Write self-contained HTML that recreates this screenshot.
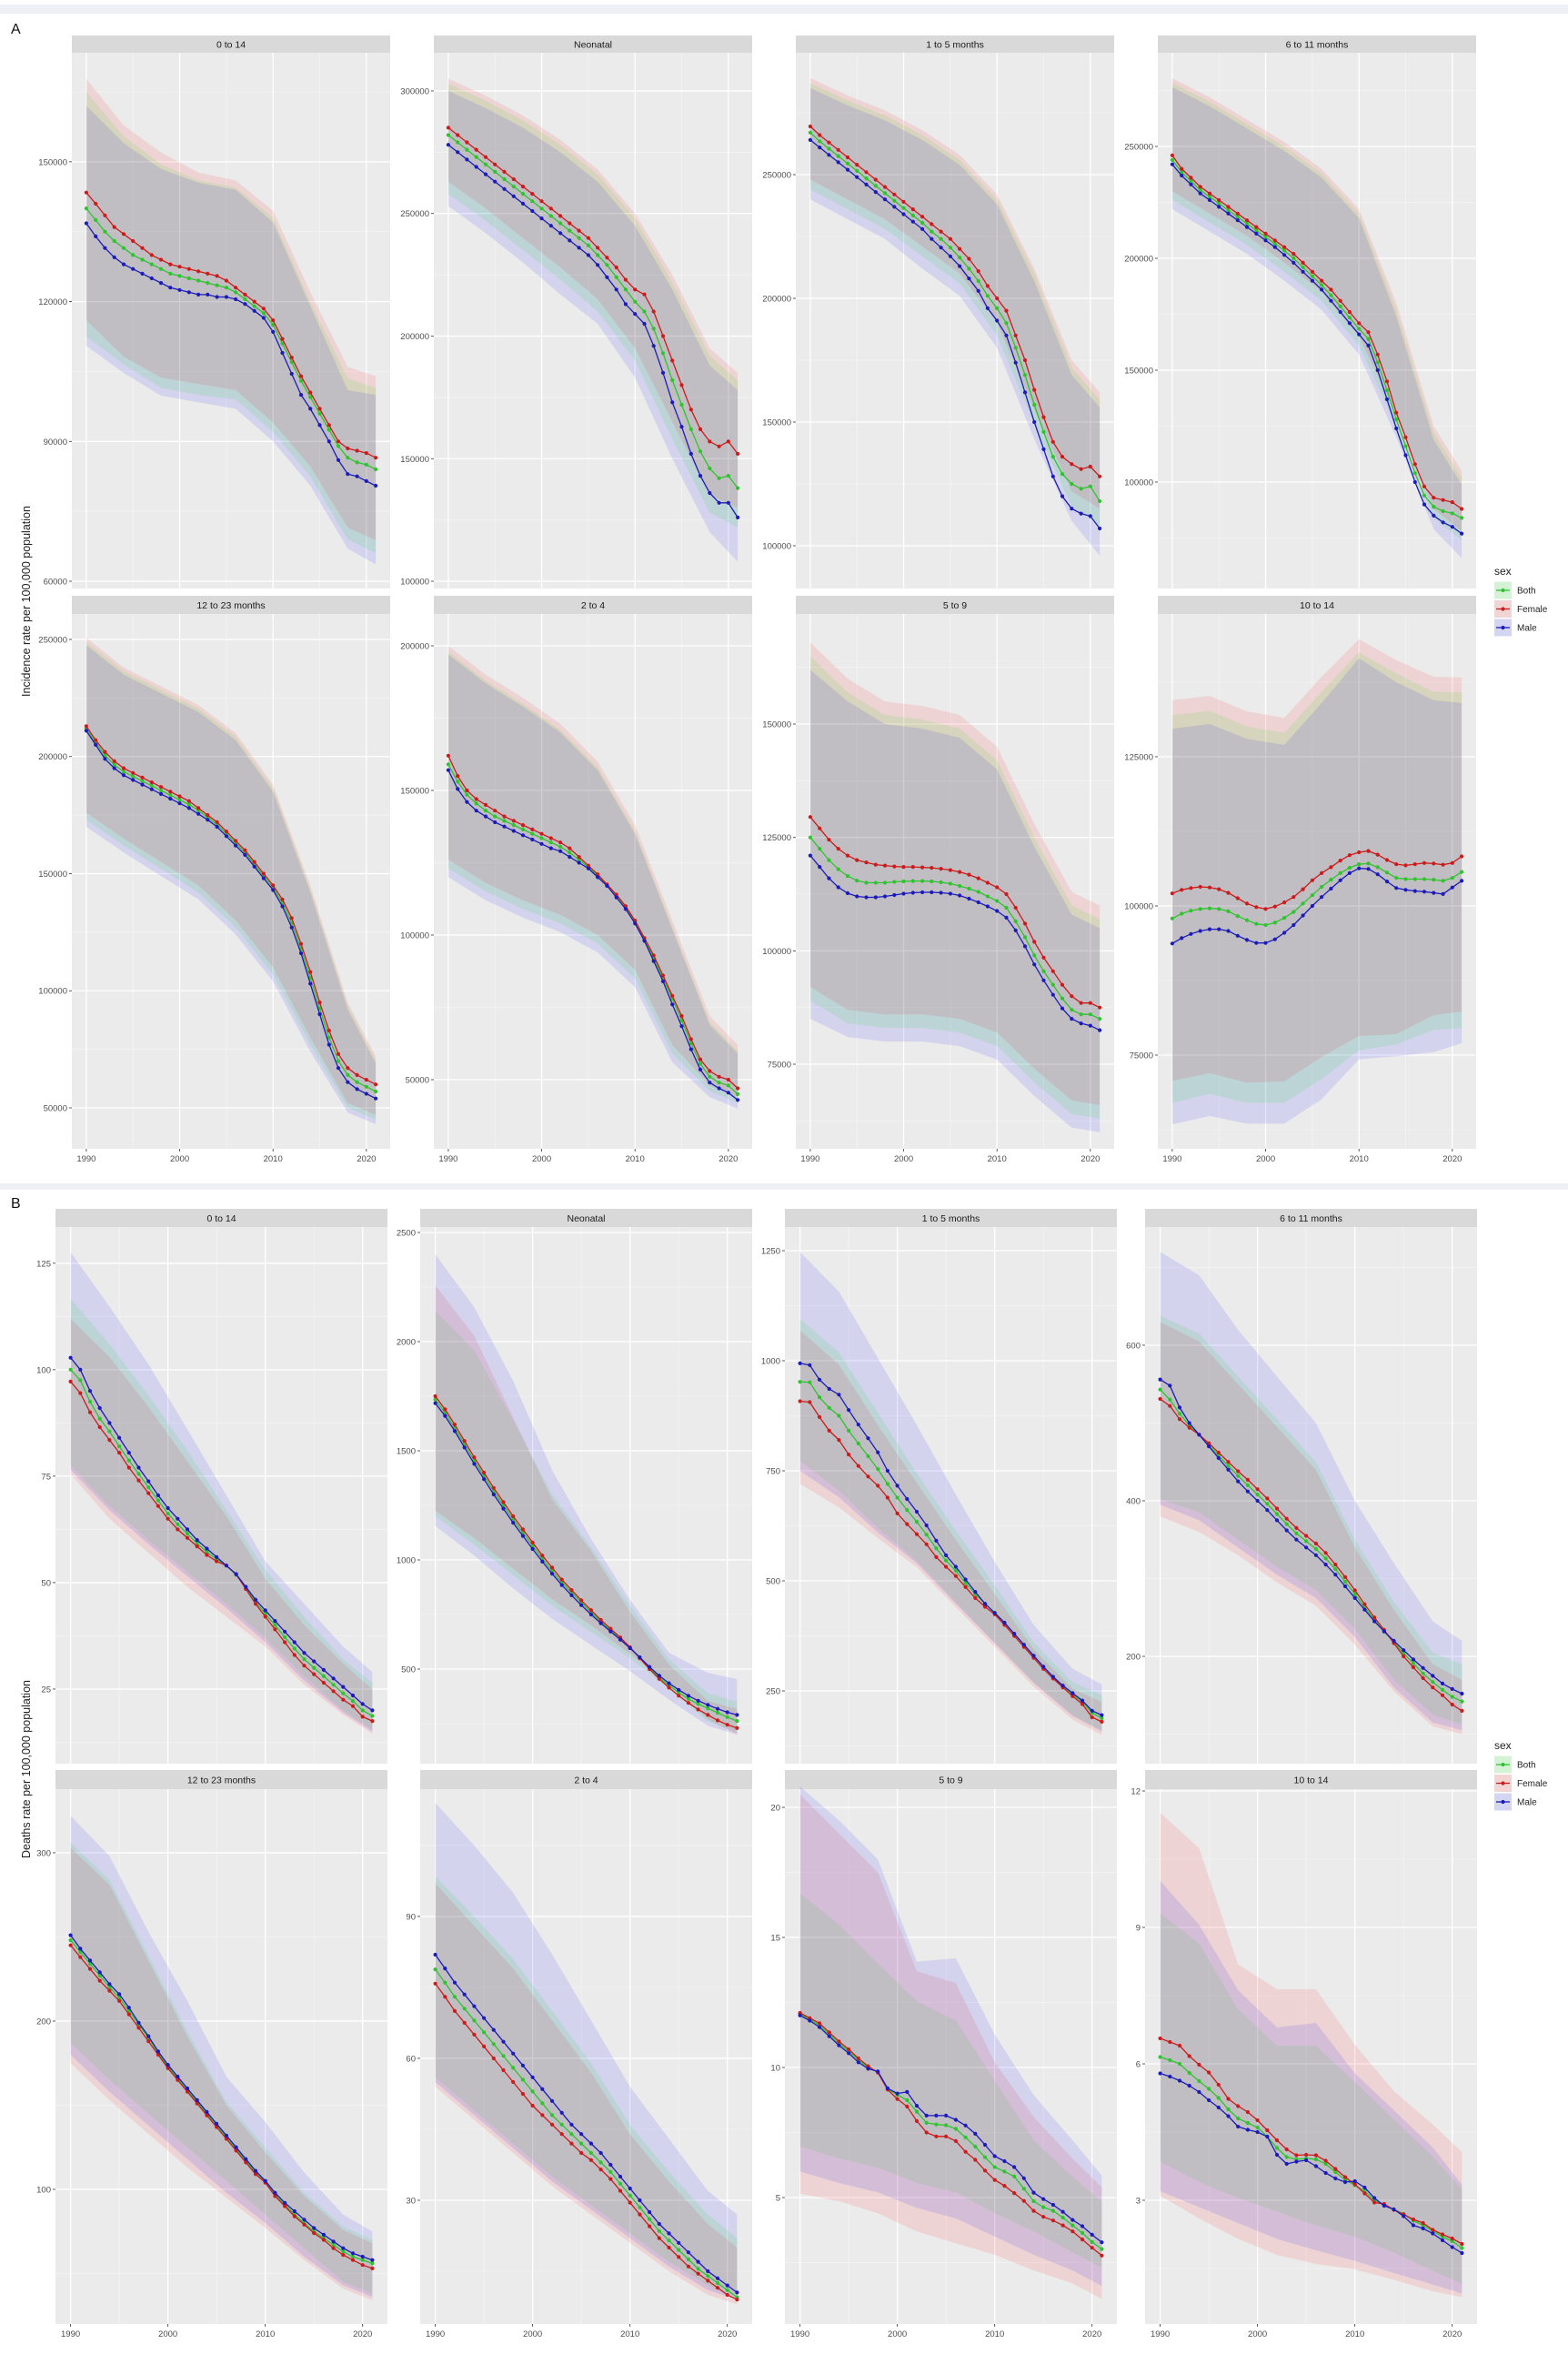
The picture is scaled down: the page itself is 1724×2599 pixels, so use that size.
<!DOCTYPE html>
<html><head><meta charset="utf-8"><style>
html,body{margin:0;padding:0;background:#fff;}
svg{display:block;font-family:"Liberation Sans",sans-serif;}
</style></head><body>
<svg id="chart" width="1724" height="2599" viewBox="0 0 1724 2599" xmlns="http://www.w3.org/2000/svg">
<rect x="0" y="0" width="1724" height="2599" fill="#ffffff"/>
<rect x="0" y="5" width="1724" height="10" fill="#eff0f6"/>
<rect x="0" y="1301" width="1724" height="7" fill="#eff0f6"/>
<text x="12" y="37" font-size="16" fill="#111">A</text>
<text x="12" y="1328" font-size="16" fill="#111">B</text>
<text transform="translate(33,661) rotate(-90)" text-anchor="middle" font-size="12.5" fill="#222">Incidence rate per 100,000 population</text>
<text transform="translate(33,1945) rotate(-90)" text-anchor="middle" font-size="12.5" fill="#222">Deaths rate per 100,000 population</text>
<g id="panels"></g>
<g id="legends"></g>
</svg>
<script>
// ===== DATA =====
const years = [1990,1991,1992,1993,1994,1995,1996,1997,1998,1999,2000,2001,2002,2003,2004,2005,2006,2007,2008,2009,2010,2011,2012,2013,2014,2015,2016,2017,2018,2019,2020,2021];
const boundYears = [1990,1994,1998,2002,2006,2010,2014,2018,2021];
const xTicks = [1990,2000,2010,2020];
// A values in thousands (per 100,000 population)
const A_0to14_female = [143.4,141,138.5,136,134.5,133,131.5,130,129,128,127.5,127,126.5,126,125.5,124.5,123,121.5,120,118.5,116,112,108,104,100.5,97,93.5,90,88.5,88,87.5,86.5];
const A_0to14_both = [140,137.5,135,133,131.5,130,129,128,127,126,125.5,125,124.5,124,123.5,123,122,120.5,119,117.5,115,111,107,103,99.5,96,92.5,89,86.5,85.5,85,84];
const A_0to14_male = [136.8,134,131.5,129.5,128,127,126,125,124,123,122.5,122,121.5,121.5,121,121,120.5,119.5,118,116.5,113.5,109,104.5,100,97,93.5,90,86,83,82.5,81.5,80.5];
const A_0to14_female_hi = [167.8,157.8,152,147.7,146,139.5,122,106,104];
const A_0to14_both_hi = [165,155.5,149.5,146,144.5,138,120,103.5,101.5];
const A_0to14_male_hi = [162,154,148.5,145.5,144,137,119,101,100];
const A_0to14_female_lo = [116,108.2,103.7,102.3,101,94,84.6,71.5,68.8];
const A_0to14_both_lo = [112.5,106.5,101.5,100,99,92,82.5,69,66];
const A_0to14_male_lo = [110.5,104.7,99.8,98.4,97,90,80.5,67,63.6];

const A_neo_female = [285,282,279,276,273,270,267,264,261,258,255,252,249,246,243,240,236,232,228,223,219,217,210,200,190,180,170,162,157,155,157,152];
const A_neo_both = [282,279,276,273,270,267,264,261,258,255,252,249,246,243,240,237,233,229,224,219,214,210,203,193,182,172,162,153,146,142,143,138];
const A_neo_male = [278,275,272,269,266,263,260,257,254,251,248,245,242,239,236,233,229,224,219,213,209,205,196,185,173,163,152,143,136,132,132,126];
const A_neo_female_hi = [305,298,290,280,268,250,225,195,185];
const A_neo_both_hi = [303,296,288,278,266,248,222,192,182];
const A_neo_male_hi = [300,293,285,275,263,245,219,188,178];
const A_neo_female_lo = [263,252,240,228,215,195,165,135,130];
const A_neo_both_lo = [258,247,235,223,210,190,158,128,122];
const A_neo_male_lo = [253,242,230,217,205,183,150,120,108];

const A_1to5_female = [269.5,266,263,260,257,254,251,248,245,242,239,236,233,230,227,224,220,216,211,205,200,195,185,175,163,152,142,136,133,131,132,128];
const A_1to5_both = [267,263.5,260.5,257.5,254.5,251.5,248.5,245.5,242.5,239.5,236.5,233.5,230.5,227,224,220.5,216.5,212,207,201,196,190,180,169,157,146,136,129,125,123,124,118];
const A_1to5_male = [264,261,258,255,252,249,246,243,240,237,234,231,228,224,220.5,217,213,208,203,196,191,185,174,162,150,139,128,120,115,113,112,107];
const A_1to5_female_hi = [289,282,276,268,258,242,212,175,162];
const A_1to5_both_hi = [287,280,274,266,256,240,210,172,159];
const A_1to5_male_hi = [285,278,272,264,254,238,207,169,156];
const A_1to5_female_lo = [248,240,232,221,210,190,155,122,115];
const A_1to5_both_lo = [244,236,228,217,206,185,149,116,108];
const A_1to5_male_lo = [240,232,224,212,201,180,143,110,96];

const A_6to11_female = [246,240,236,232,229,226,223,220,217,214,211,208,205,202,198,194,190,186,181,176,171,167,157,145,131,120,108,98,93,92,91,88];
const A_6to11_both = [244,238.5,234.5,230.5,227.5,224.5,221.5,218.5,215.5,212.5,209.5,206.5,203.5,200,196,192,188,183.5,178.5,173.5,168.5,164,153.5,141,128,116,104,94,89,87,86,84];
const A_6to11_male = [242,237,233,229,226,223,220,217,214,211,208,205,201.5,198,194,190,186,181,176,171,166,161,150,137,124,112,100,90,85,82,80,77];
const A_6to11_female_hi = [280.5,272,262,252,240,222,180,125,105];
const A_6to11_both_hi = [278.5,270,260,250,238,220,177,122,102];
const A_6to11_male_hi = [276.5,268,258,248,236,218,174,119,99];
const A_6to11_female_lo = [230,220,210,198,185,165,130,88,78];
const A_6to11_both_lo = [226,216,206,194,181,161,125,84,74];
const A_6to11_male_lo = [222,212,202,190,177,157,120,79,66];

const A_12to23_female = [213,207,202,198,195,193,191,189,187,185,183,181,178,175,172,168,164,160,155,150,145,139,131,120,108,95,83,73,67,64,62,60];
const A_12to23_both = [212,206,200.5,196.5,193.5,191.5,189.5,187.5,185.5,183.5,181.5,179.5,177,174,171,167,163,159,154,149,144,137.5,129,118,105.5,92.5,80,70,64,61,59,57];
const A_12to23_male = [211,205,199,195,192,190,188,186,184,182,180,178,175.5,173,170,166,162,158,153,148,143,136,127,116,103,90,77,67,61,58,56,54];
const A_12to23_female_hi = [250.7,238,230,222,210,188,145,95,72];
const A_12to23_both_hi = [249,236.5,228.5,220.5,208.5,186.5,143.5,93.5,70.5];
const A_12to23_male_hi = [247.5,235,227,219,207,185,142,92,69];
const A_12to23_female_lo = [176,165,155,145,130,110,80,52,47];
const A_12to23_both_lo = [173,162,152,142,127,107,77,50,45];
const A_12to23_male_lo = [170,159,149,139,124,104,74,48,43];

const A_2to4_female = [162,155,150,147,145,143,141,139.5,138,136.5,135,133.5,132,130,127,124,121,117.5,114,110,105,99,93,86,79,72,64,57,53,51,50,47];
const A_2to4_both = [159,153,148.5,145.5,143,141,139.5,138,136.5,135,133.5,132,130.5,128.5,126,123.5,120.5,117,113.5,109.5,104.5,98.5,92,85,78,70.5,62.5,55.5,51,49,48,45];
const A_2to4_male = [157,150.5,146,143,141,139,137.5,136,134.5,133,131.5,130,129,127,125,123,120,117,113,109,104,98,91,84,76,68.5,60.5,53.5,49,47,45.5,43];
const A_2to4_female_hi = [200,190,182,173,160,138,105,72,62];
const A_2to4_both_hi = [198,188,180,171,158,136,103,70,60];
const A_2to4_male_hi = [197,187,179,170,157,135,102,69,59];
const A_2to4_female_lo = [126,118,112,107,100,88,62,48,44];
const A_2to4_both_lo = [123,115,109,104,97,85,59,46,42];
const A_2to4_male_lo = [120,112,106,101,94,82,56,44,40];

const A_5to9_female = [129.5,127,124.5,122.5,121,120,119.5,119,118.8,118.6,118.5,118.5,118.4,118.3,118.1,117.8,117.4,116.8,116,115,114,112.5,109.5,106,102,98.5,95.5,92.5,90,88.5,88.5,87.5];
const A_5to9_both = [125,122.5,120,118,116.5,115.5,115,115,115,115.2,115.3,115.4,115.4,115.3,115.1,114.8,114.3,113.7,113,112,111,109.5,106.5,103,99,95.5,92.5,89.5,87,86,86,85];
const A_5to9_male = [121,118.5,116,114,112.7,112,111.8,111.8,112,112.3,112.6,112.8,112.9,112.9,112.8,112.6,112.2,111.5,110.7,109.8,108.8,107.3,104.5,101,97,93.5,90.3,87.3,85,84,83.5,82.5];
const A_5to9_female_hi = [168,160,155,154,152,145,128,113,110];
const A_5to9_both_hi = [165,157,152,151,149,142,125,110,107];
const A_5to9_male_hi = [162,155,150,149,147,140,123,108,105];
const A_5to9_female_lo = [92,87,86,86,85,82,74,67,66];
const A_5to9_both_lo = [89,84,83,83,82,79,71,64,63];
const A_5to9_male_lo = [85,81,80,80,79,76,68,61,60];

const A_10to14_female = [102.1,102.7,103,103.2,103.1,102.8,102.2,101.3,100.4,99.8,99.5,99.9,100.6,101.5,102.8,104.3,105.5,106.5,107.6,108.5,109,109.2,108.6,107.7,107,106.8,107,107.2,107.1,106.9,107.2,108.3];
const A_10to14_both = [97.9,98.7,99.2,99.5,99.6,99.5,99.1,98.3,97.6,97,96.8,97.2,98,99,100.4,101.8,103.2,104.4,105.5,106.4,107,107.1,106.5,105.6,104.7,104.5,104.5,104.5,104.4,104.2,104.7,105.7];
const A_10to14_male = [93.7,94.6,95.3,95.8,96.1,96.1,95.8,95,94.3,93.8,93.8,94.4,95.5,96.8,98.4,100,101.5,102.9,104.3,105.5,106.3,106.2,105.3,104.1,103,102.7,102.5,102.4,102.2,102,103.1,104.2];
const A_10to14_female_hi = [134.5,135.2,132.6,131.5,138.4,144.7,141.2,138.4,138.3];
const A_10to14_both_hi = [132,132.7,130.1,129,135.9,142.5,139,135.9,135.8];
const A_10to14_male_hi = [129.7,130.5,128,127,134,141.5,137.5,134.5,134];
const A_10to14_female_lo = [70.7,72,70.4,70.6,74.7,78.2,78.5,81.7,82.3];
const A_10to14_both_lo = [67,68.5,67,67,71,75.8,76.8,79.2,79.5];
const A_10to14_male_lo = [63.4,64.8,63.5,63.5,67.6,74.3,74.8,75.5,77];

// B values (deaths per 100,000)
const B_0to14_female = [97.2,94.5,90,86.5,83.5,80.5,77,74,71,68,65,62.5,60.5,58.5,56.5,55,54,52,48.5,45,42,39,36,33,30.5,28.5,26.5,24.5,22.5,21,18.5,17.5];
const B_0to14_both = [100,97.5,92.5,88.5,85.5,82,78.7,75.5,72.4,69.3,66.2,63.7,61.5,59.2,57.2,55.5,54,51.8,48.7,45.5,42.7,40,37.2,34.5,32,30,28,26,24,22.2,20,18.7];
const B_0to14_male = [102.8,100,95,91,87.5,84,80.5,77,73.8,70.5,67.5,65,62.5,60,58,56,54,52,49,46,43.5,41,38.5,36,33.5,31.5,29.5,27.5,25.5,23.5,21.5,20];
const B_0to14_female_hi = [112,103,91.3,78.5,65.6,51,40,31,25];
const B_0to14_both_hi = [116.7,106,94,81,67,53,42,32,26.5];
const B_0to14_male_hi = [127.6,114.8,101.3,86,70.5,55,45,35,29];
const B_0to14_female_lo = [75.5,65,57,49,42,35,26,19,14.5];
const B_0to14_both_lo = [77.5,68,60,52.5,45,37,28,20,15.5];
const B_0to14_male_lo = [76.5,67,59,51.5,44,36,27,19.5,15];

const B_neo_female = [1750,1690,1620,1545,1470,1400,1330,1265,1200,1140,1080,1020,965,910,862,815,770,725,685,645,600,550,500,455,415,378,345,315,290,265,245,230];
const B_neo_both = [1735,1675,1605,1530,1455,1385,1315,1250,1185,1125,1065,1005,950,898,850,805,760,718,678,640,598,552,505,462,425,392,363,340,320,300,280,262];
const B_neo_male = [1718,1660,1590,1515,1440,1370,1300,1235,1170,1110,1050,992,937,885,838,793,750,710,672,635,596,554,510,470,435,405,378,355,336,318,302,290];
const B_neo_female_hi = [2258,2027,1653,1279,1042,762,521,354,317];
const B_neo_both_hi = [2140,1960,1640,1300,1060,790,545,390,350];
const B_neo_male_hi = [2400,2158,1820,1412,1096,817,575,483,454];
const B_neo_female_lo = [1225,1100,960,820,700,570,430,270,200];
const B_neo_both_lo = [1200,1070,930,790,670,550,410,260,210];
const B_neo_male_lo = [1155,1020,870,730,610,490,360,240,200];

const B_1to5_female = [908,906,872,841,820,787,761,737,716,689,653,629,606,583,554,532,511,486,461,441,424,400,375,350,325,300,278,258,238,220,190,180];
const B_1to5_both = [952,951,917,893,875,841,812,783,754,720,689,661,634,605,574,546,523,495,470,448,428,405,380,355,330,305,282,262,242,225,200,188];
const B_1to5_male = [994,990,957,936,923,888,855,824,792,750,716,686,657,626,591,558,532,503,475,448,427,405,380,355,330,305,282,262,245,228,205,195];
const B_1to5_female_hi = [1069,991,854,723,593,470,345,255,225];
const B_1to5_both_hi = [1095,1019,882,744,614,490,360,270,240];
const B_1to5_male_hi = [1247,1157,1006,854,696,543,400,300,265];
const B_1to5_female_lo = [720,667,597,531,440,350,260,185,150];
const B_1to5_both_lo = [772,705,620,545,452,360,270,195,160];
const B_1to5_male_lo = [750,690,610,540,448,358,268,193,158];

const B_6to11_female = [531,522,505,494,485,474,462,450,438,427,415,403,390,377,365,355,345,333,318,302,285,267,250,234,217,200,186,172,160,150,138,130];
const B_6to11_both = [543,530,512,497,485,472,458,445,432,420,408,396,383,370,358,348,338,326,312,296,280,263,247,232,218,204,191,178,167,157,148,142];
const B_6to11_male = [556,548,520,500,485,470,455,440,425,412,400,388,375,362,350,340,330,318,305,290,275,260,245,232,220,208,196,185,175,165,158,152];
const B_6to11_female_hi = [630,605,550,495,440,340,260,190,170];
const B_6to11_both_hi = [638,615,560,505,450,350,270,205,190];
const B_6to11_male_hi = [720,690,620,560,500,400,320,245,220];
const B_6to11_female_lo = [380,360,330,295,265,215,155,110,100];
const B_6to11_both_lo = [402,385,350,315,285,235,170,125,112];
const B_6to11_male_lo = [395,375,340,305,275,225,160,115,105];

const B_12to23_female = [245,238,231,224,218,212,204,196,188,180,172,165,158,151,144,137,130,123,116,109,104,96,90,84,79,74,70,65,61,58,55,53];
const B_12to23_both = [248,241,234,227,220,214,206,198,190,181,173,166,159,152,145,138,131,124,117,110,105,97,91,85,80,75,71,67,63,60,58,56];
const B_12to23_male = [251,243,236,229,222,216,208,199,191,182,174,167,160,153,146,139,132,125,118,111,105,98,92,87,82,77,73,69,65,62,60,58];
const B_12to23_female_hi = [303,281,236,191,150,122,96,76,68];
const B_12to23_both_hi = [306,284,239,194,152,125,98,78,70];
const B_12to23_male_hi = [322,298,253,212,167,140,110,85,75];
const B_12to23_female_lo = [175,153,133,113,95,77,58,41,34];
const B_12to23_both_lo = [187,165,145,125,105,85,65,45,38];
const B_12to23_male_lo = [180,158,138,118,98,80,60,43,36];

const B_2to4_female = [75.8,73,70,67.5,65,62.5,60,57.5,55,52.5,50,48,46,44,42,40,38.5,36.5,34.5,32,29.5,27,24.5,22,20,18,16,14.5,13,11.5,10,9];
const B_2to4_both = [78.8,76,73,70.5,68,65.5,63,60.5,58,55.5,53,50.5,48,46,44,42,40,38,36,33.5,31,28.5,26,23.5,21.5,19.5,17.5,15.5,14,12.5,11,9.5];
const B_2to4_male = [81.9,79,76,73.5,71,68.5,66,63.5,61,58.5,56,53.5,51,48.5,46,44,42,40,37.5,35,32.5,30,27.5,25,23,21,19,17,15,13.5,12,10.5];
const B_2to4_female_hi = [97,88,79,68,57,44,34,25,20];
const B_2to4_both_hi = [98.5,90,81,70,59,46,36,27,22];
const B_2to4_male_hi = [114,105,95,82,68,54,43,32,27];
const B_2to4_female_lo = [54,47,40,33,27,21,15,10,8];
const B_2to4_both_lo = [56,49,42,35,29,23,17,12,9.5];
const B_2to4_male_lo = [55,48,41,34,28,22,16,11,9];

const B_5to9_female = [12.1,11.9,11.7,11.35,11.0,10.7,10.35,10.05,9.8,9.15,8.79,8.5,7.94,7.5,7.35,7.35,7.17,6.76,6.45,6.04,5.68,5.45,5.17,4.87,4.49,4.26,4.12,3.93,3.7,3.39,3.07,2.77];
const B_5to9_both = [12.06,11.85,11.62,11.27,10.92,10.63,10.28,10.0,9.83,9.18,8.95,8.74,8.3,7.87,7.81,7.78,7.64,7.31,6.96,6.55,6.17,6.0,5.81,5.34,4.86,4.63,4.49,4.23,3.93,3.64,3.29,3.02];
const B_5to9_male = [12.0,11.8,11.55,11.2,10.85,10.55,10.2,9.95,9.85,9.2,9.0,9.06,8.53,8.15,8.15,8.15,7.99,7.77,7.45,7.03,6.59,6.4,6.17,5.74,5.19,4.94,4.72,4.45,4.14,3.9,3.57,3.28];
const B_5to9_female_hi = [20.5,19,17.5,13.7,13.25,10.2,8.1,6.5,5.4];
const B_5to9_both_hi = [16.7,15.5,14,12.55,11.8,9.5,7.2,5.8,4.85];
const B_5to9_male_hi = [20.8,19.5,18,14.07,14.2,11.27,8.94,7.2,5.85];
const B_5to9_female_lo = [5.15,4.86,4.4,3.7,3.24,2.8,2.2,1.7,1.1];
const B_5to9_both_lo = [6.96,6.5,6.15,5.56,5.2,4.4,3.7,2.9,2.3];
const B_5to9_male_lo = [6.0,5.56,5.2,4.6,4.2,3.5,2.8,2.2,1.6];

const B_10to14_female = [6.56,6.48,6.4,6.17,5.98,5.81,5.54,5.23,5.07,4.94,4.76,4.54,4.32,4.12,3.99,4.0,3.99,3.87,3.69,3.51,3.35,3.15,2.95,2.92,2.79,2.69,2.58,2.5,2.35,2.25,2.16,2.04];
const B_10to14_both = [6.15,6.08,6.0,5.8,5.62,5.45,5.25,5.0,4.8,4.7,4.6,4.4,4.15,3.95,3.9,3.92,3.9,3.8,3.62,3.45,3.33,3.2,3.0,2.9,2.8,2.7,2.55,2.45,2.32,2.2,2.1,1.95];
const B_10to14_male = [5.79,5.72,5.63,5.52,5.38,5.2,5.04,4.85,4.62,4.55,4.5,4.4,4.0,3.8,3.85,3.88,3.75,3.6,3.48,3.4,3.42,3.28,3.05,2.88,2.8,2.65,2.45,2.38,2.27,2.12,1.97,1.84];
const B_10to14_female_hi = [11.52,10.74,8.19,7.64,7.64,6.42,5.4,4.67,4.06];
const B_10to14_both_hi = [9.31,8.65,7.2,6.4,6.4,5.6,4.78,3.96,3.24];
const B_10to14_male_hi = [10.02,9.06,7.62,6.8,6.9,5.79,4.98,4.16,3.34];
const B_10to14_female_lo = [3.1,2.6,2.15,1.8,1.6,1.48,1.25,1.0,0.87];
const B_10to14_both_lo = [3.85,3.4,3.05,2.75,2.45,2.2,1.85,1.45,1.16];
const B_10to14_male_lo = [3.2,2.85,2.5,2.15,1.9,1.67,1.4,1.15,0.95];

// tick values per panel
const A_ticks = [[60,90,120,150],[100,150,200,250,300],[100,150,200,250],[100,150,200,250],[50,100,150,200,250],[50,100,150,200],[75,100,125,150],[75,100,125]];
const B_ticks = [[25,50,75,100,125],[500,1000,1500,2000,2500],[250,500,750,1000,1250],[200,400,600],[100,200,300],[30,60,90],[5,10,15,20],[3,6,9,12]];
const panelTitles = ["0 to 14","Neonatal","1 to 5 months","6 to 11 months","12 to 23 months","2 to 4","5 to 9","10 to 14"];
const seriesNames = ["Both","Female","Male"];

// ===== LAYOUT =====
const SVGNS = "http://www.w3.org/2000/svg";
const lineColor = {Both:"#2fc42f", Female:"#cc1b1b", Male:"#1b1bbb"};
const fillColor = {Both:"#00ff00", Female:"#ff0000", Male:"#0000ff"};
const sections = {
  A: {cols:[79,477,875,1273], w:350, strips:[39,655], plotTop:[58,675], plotBot:[647,1263], unit:1000,
      domains:[[58.44,173.4],[97.04,315.56],[82.72,299.27],[52.44,291.87],[32.52,260.87],[26.1,211.0],[56.35,174.27],[59.3,148.93]],
      ticks:A_ticks,
      data:[[A_0to14_both,A_0to14_female,A_0to14_male,A_0to14_both_lo,A_0to14_female_lo,A_0to14_male_lo,A_0to14_both_hi,A_0to14_female_hi,A_0to14_male_hi],
            [A_neo_both,A_neo_female,A_neo_male,A_neo_both_lo,A_neo_female_lo,A_neo_male_lo,A_neo_both_hi,A_neo_female_hi,A_neo_male_hi],
            [A_1to5_both,A_1to5_female,A_1to5_male,A_1to5_both_lo,A_1to5_female_lo,A_1to5_male_lo,A_1to5_both_hi,A_1to5_female_hi,A_1to5_male_hi],
            [A_6to11_both,A_6to11_female,A_6to11_male,A_6to11_both_lo,A_6to11_female_lo,A_6to11_male_lo,A_6to11_both_hi,A_6to11_female_hi,A_6to11_male_hi],
            [A_12to23_both,A_12to23_female,A_12to23_male,A_12to23_both_lo,A_12to23_female_lo,A_12to23_male_lo,A_12to23_both_hi,A_12to23_female_hi,A_12to23_male_hi],
            [A_2to4_both,A_2to4_female,A_2to4_male,A_2to4_both_lo,A_2to4_female_lo,A_2to4_male_lo,A_2to4_both_hi,A_2to4_female_hi,A_2to4_male_hi],
            [A_5to9_both,A_5to9_female,A_5to9_male,A_5to9_both_lo,A_5to9_female_lo,A_5to9_male_lo,A_5to9_both_hi,A_5to9_female_hi,A_5to9_male_hi],
            [A_10to14_both,A_10to14_female,A_10to14_male,A_10to14_both_lo,A_10to14_female_lo,A_10to14_male_lo,A_10to14_both_hi,A_10to14_female_hi,A_10to14_male_hi]],
      legendY:628},
  B: {cols:[61,462,863,1259], w:365, strips:[1329,1946], plotTop:[1349,1967], plotBot:[1939,2555], unit:1,
      domains:[[7.48,133.5],[66.7,2525],[84.7,1303.7],[62,752],[20,337.8],[3.85,116.9],[0.14,20.7],[0.28,12.04]],
      ticks:B_ticks,
      data:[[B_0to14_both,B_0to14_female,B_0to14_male,B_0to14_both_lo,B_0to14_female_lo,B_0to14_male_lo,B_0to14_both_hi,B_0to14_female_hi,B_0to14_male_hi],
            [B_neo_both,B_neo_female,B_neo_male,B_neo_both_lo,B_neo_female_lo,B_neo_male_lo,B_neo_both_hi,B_neo_female_hi,B_neo_male_hi],
            [B_1to5_both,B_1to5_female,B_1to5_male,B_1to5_both_lo,B_1to5_female_lo,B_1to5_male_lo,B_1to5_both_hi,B_1to5_female_hi,B_1to5_male_hi],
            [B_6to11_both,B_6to11_female,B_6to11_male,B_6to11_both_lo,B_6to11_female_lo,B_6to11_male_lo,B_6to11_both_hi,B_6to11_female_hi,B_6to11_male_hi],
            [B_12to23_both,B_12to23_female,B_12to23_male,B_12to23_both_lo,B_12to23_female_lo,B_12to23_male_lo,B_12to23_both_hi,B_12to23_female_hi,B_12to23_male_hi],
            [B_2to4_both,B_2to4_female,B_2to4_male,B_2to4_both_lo,B_2to4_female_lo,B_2to4_male_lo,B_2to4_both_hi,B_2to4_female_hi,B_2to4_male_hi],
            [B_5to9_both,B_5to9_female,B_5to9_male,B_5to9_both_lo,B_5to9_female_lo,B_5to9_male_lo,B_5to9_both_hi,B_5to9_female_hi,B_5to9_male_hi],
            [B_10to14_both,B_10to14_female,B_10to14_male,B_10to14_both_lo,B_10to14_female_lo,B_10to14_male_lo,B_10to14_both_hi,B_10to14_female_hi,B_10to14_male_hi]],
      legendY:1919}
};

function mk(tag, attrs, parent){
  const el = document.createElementNS(SVGNS, tag);
  for (const k in attrs) el.setAttribute(k, attrs[k]);
  if (parent) parent.appendChild(el);
  return el;
}
function slug(s){ return s.toLowerCase().replace(/[^a-z0-9]+/g,'-'); }

const root = document.getElementById('panels');
for (const secKey of ['A','B']) {
  const S = sections[secKey];
  for (let p = 0; p < 8; p++) {
    const col = p % 4, row = Math.floor(p / 4);
    const x0 = S.cols[col], w = S.w, y0 = S.plotTop[row], y1 = S.plotBot[row];
    const dom = S.domains[p];
    const xScale = yr => x0 + w * (1.55 + (yr - 1990)) / 34.1;
    const yScale = v => y1 - (v - dom[0]) / (dom[1] - dom[0]) * (y1 - y0);
    const g = mk('g', {}, root);
    
    
    const strip = mk('rect', {x:x0, y:S.strips[row], width:w, height:y0 - S.strips[row], fill:'#d9d9d9'}, g);
    
    
    const st = mk('text', {x:x0 + w/2, y:S.strips[row] + (y0 - S.strips[row])/2 + 4, 'text-anchor':'middle', 'font-size':'10.5', fill:'#1a1a1a'}, g);
    st.textContent = panelTitles[p];
    
    
    const bg = mk('rect', {x:x0, y:y0, width:w, height:y1 - y0, fill:'#ebebeb'}, g);
    
    
    const ticks = S.ticks[p];
    const step = ticks[1] - ticks[0];
    const minors = [];
    for (let i = -1; i < ticks.length; i++) {
      const m = ticks[0] + step * (i + 0.5);
      if (m > dom[0] && m < dom[1]) minors.push(m);
    }
    minors.forEach(m => {
      const l = mk('line', {x1:x0, x2:x0 + w, y1:yScale(m), y2:yScale(m), stroke:'#f5f5f5', 'stroke-width':0.7}, g);
      
      
    });
    [1995,2005,2015].forEach(yr => {
      const l = mk('line', {x1:xScale(yr), x2:xScale(yr), y1:y0, y2:y1, stroke:'#f5f5f5', 'stroke-width':0.7}, g);
      
      
    });
    ticks.forEach(t => {
      const yy = yScale(t);
      const l = mk('line', {x1:x0, x2:x0 + w, y1:yy, y2:yy, stroke:'#ffffff', 'stroke-width':1.3}, g);
      
      
      const tk = mk('line', {x1:x0 - 3, x2:x0, y1:yy, y2:yy, stroke:'#333', 'stroke-width':0.8}, g);
      
      
      const tl = mk('text', {x:x0 - 5, y:yy + 3.5, 'text-anchor':'end', 'font-size':'9.5', fill:'#4d4d4d'}, g);
      tl.textContent = String(Math.round(t * S.unit));
      
      
    });
    xTicks.forEach(yr => {
      const l = mk('line', {x1:xScale(yr), x2:xScale(yr), y1:y0, y2:y1, stroke:'#ffffff', 'stroke-width':1.3}, g);
      
      
      if (row === 1) {
        const tk = mk('line', {x1:xScale(yr), x2:xScale(yr), y1:y1, y2:y1 + 3, stroke:'#333', 'stroke-width':0.8}, g);
        
        
        const tl = mk('text', {x:xScale(yr), y:y1 + 14, 'text-anchor':'middle', 'font-size':'9.5', fill:'#4d4d4d'}, g);
        tl.textContent = String(yr);
        
        
      }
    });
    const D = S.data[p];
    for (let s = 0; s < 3; s++) {
      const lo = D[3 + s], hi = D[6 + s];
      let pts = boundYears.map((yr, i) => xScale(yr).toFixed(1) + ',' + yScale(hi[i]).toFixed(1));
      for (let i = boundYears.length - 1; i >= 0; i--) pts.push(xScale(boundYears[i]).toFixed(1) + ',' + yScale(lo[i]).toFixed(1));
      const rb = mk('polygon', {points:pts.join(' '), fill:fillColor[seriesNames[s]], 'fill-opacity':0.1}, g);
      
      
    }
    for (let s = 0; s < 3; s++) {
      const vals = D[s];
      const col2 = lineColor[seriesNames[s]];
      const d = vals.map((v, i) => (i ? 'L' : 'M') + xScale(years[i]).toFixed(1) + ',' + yScale(v).toFixed(1)).join('');
      const ln = mk('path', {d:d, fill:'none', stroke:col2, 'stroke-width':1.3}, g);
      
      
      vals.forEach((v, i) => {
        const c = mk('circle', {cx:xScale(years[i]).toFixed(1), cy:yScale(v).toFixed(1), r:2.1, fill:col2}, g);
        
        
      });
    }
  }
  const lg = mk('g', {}, document.getElementById('legends'));
  
  
  const lt = mk('text', {x:1643, y:S.legendY + 4, 'font-size':'12', fill:'#222'}, lg);
  lt.textContent = 'sex';
  
  
  seriesNames.forEach((nm, i) => {
    const cy = S.legendY + 21 + i * 20.5;
    const e = mk('g', {}, lg);
    
    
    mk('rect', {x:1643, y:cy - 9.5, width:19, height:19, fill:'#f2f2f2'}, e);
    mk('rect', {x:1643, y:cy - 9.5, width:19, height:19, fill:fillColor[nm], 'fill-opacity':0.12}, e);
    mk('line', {x1:1645, x2:1660, y1:cy, y2:cy, stroke:lineColor[nm], 'stroke-width':1.3}, e);
    mk('circle', {cx:1652.5, cy:cy, r:2.1, fill:lineColor[nm]}, e);
    const tx = mk('text', {x:1668, y:cy + 3.5, 'font-size':'10', fill:'#222'}, e);
    tx.textContent = nm;
  });
}
</script>
</body></html>
